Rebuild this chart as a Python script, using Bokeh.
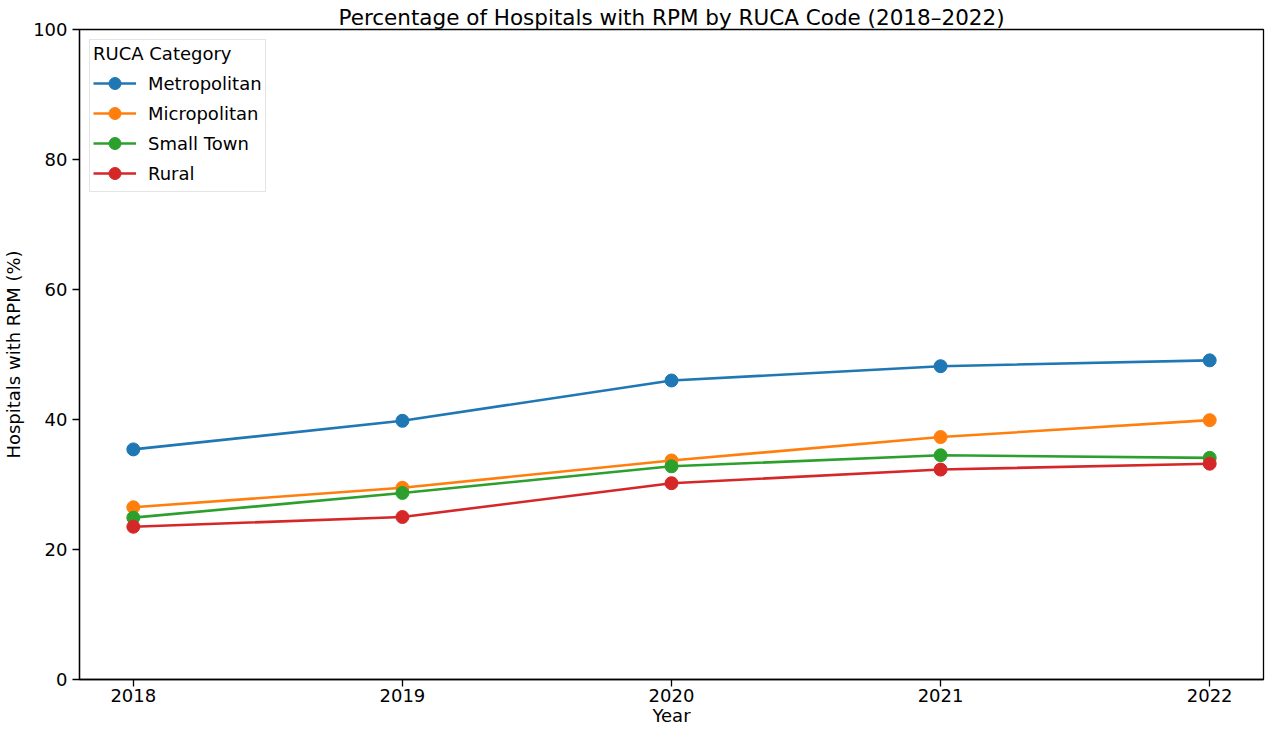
from bokeh.plotting import figure
from bokeh.models import FixedTicker, Range1d
from bokeh.embed import file_html
from bokeh.resources import INLINE

years = [2018, 2019, 2020, 2021, 2022]
categories = ["Metropolitan", "Micropolitan", "Small Town", "Rural"]
metropolitan = [35.4, 39.8, 46.0, 48.2, 49.1]
micropolitan = [26.5, 29.5, 33.7, 37.3, 39.9]
small_town = [24.9, 28.7, 32.8, 34.5, 34.1]
rural = [23.5, 25.0, 30.2, 32.3, 33.2]
series = [metropolitan, micropolitan, small_town, rural]
colors = ["#1f77b4", "#ff7f0e", "#2ca02c", "#d62728"]
x_ticks = [2018, 2019, 2020, 2021, 2022]
y_ticks = [0, 20, 40, 60, 80, 100]

FONT = "DejaVu Sans"
FW, FH = 1184, 650
BL, BR, BT, BB = 78, 2, 29, 52

p = figure(frame_width=FW, frame_height=FH, output_backend="svg",
           toolbar_location=None,
           x_range=Range1d(2017.8, 2022.2), y_range=Range1d(0, 100),
           min_border_left=BL, min_border_right=BR, min_border_bottom=BB, min_border_top=BT,
           title="Percentage of Hospitals with RPM by RUCA Code (2018\u20132022)")

p.title.align = "center"
p.title.text_font = FONT
p.title.text_font_style = "normal"
p.title.text_font_size = "21.5px"
p.title.text_color = "#000000"
p.title.offset = 0
p.title.standoff = 0

for name, vals, c in zip(categories, series, colors):
    p.line(years, vals, line_color=c, line_width=2.6, legend_label=name)
    p.scatter(years, vals, size=13, fill_color=c, line_color=c, legend_label=name)

p.xgrid.visible = False
p.ygrid.visible = False
p.outline_line_color = "#000000"
p.outline_line_width = 1.3

for ax in (p.xaxis[0], p.yaxis[0]):
    ax.major_label_text_font = FONT
    ax.major_label_text_font_size = "18px"
    ax.major_label_text_color = "#000000"
    ax.axis_label_text_font = FONT
    ax.axis_label_text_font_size = "18px"
    ax.axis_label_text_font_style = "normal"
    ax.axis_label_text_color = "#000000"
    ax.axis_line_color = "#000000"
    ax.axis_line_width = 1.3
    ax.major_tick_line_color = "#000000"
    ax.major_tick_line_width = 1.3
    ax.major_tick_out = 7
    ax.major_tick_in = 0
    ax.minor_tick_line_color = None

p.xaxis[0].ticker = FixedTicker(ticks=x_ticks)
p.yaxis[0].ticker = FixedTicker(ticks=y_ticks)
p.xaxis[0].axis_label = "Year"
p.yaxis[0].axis_label = "Hospitals with RPM (%)"
p.xaxis[0].major_label_standoff = 2
p.xaxis[0].axis_label_standoff = 0
p.yaxis[0].major_label_standoff = 5
p.yaxis[0].axis_label_standoff = 6

lg = p.legend[0]
lg.location = "top_left"
lg.margin = 10
lg.title = "RUCA Category"
lg.title_text_font = FONT
lg.title_text_font_size = "18px"
lg.title_text_font_style = "normal"
lg.title_text_color = "#000000"
lg.label_text_font = FONT
lg.label_text_font_size = "18px"
lg.label_text_color = "#000000"
lg.border_line_color = "#cccccc"
lg.border_line_width = 1
lg.background_fill_alpha = 0.8
lg.spacing = -4
lg.label_height = 30
lg.glyph_height = 30
lg.glyph_width = 43
lg.label_standoff = 12
lg.padding = 3
lg.title_standoff = 4

open("out.html", "w").write(file_html(p, INLINE))
